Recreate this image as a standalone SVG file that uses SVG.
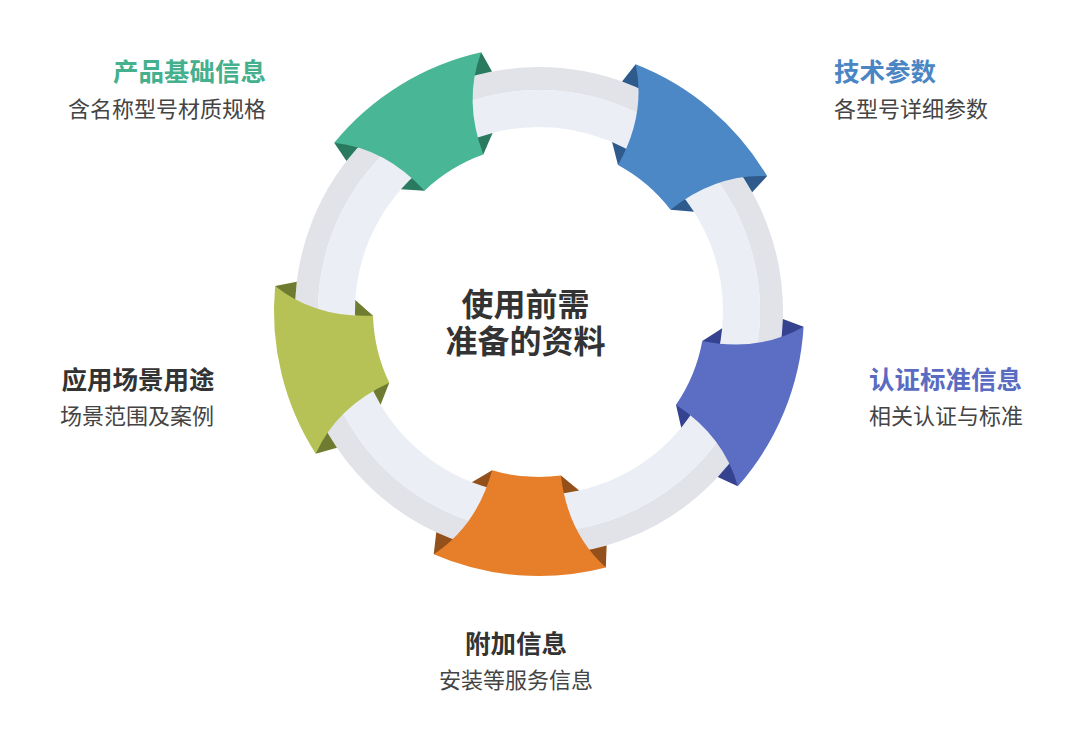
<svg xmlns="http://www.w3.org/2000/svg" xmlns:xlink="http://www.w3.org/1999/xlink" width="1080" height="745" viewBox="0 0 1080 745">
<style>
text{font-family:"Noto Sans CJK SC","Noto Sans",sans-serif;}
.t{font-size:25.5px;font-weight:700;}
.s{font-size:22px;fill:#444;}
.c{font-size:32px;font-weight:700;fill:#333;text-anchor:middle;}
</style>
<defs>
<path id="face" d="M-34.5,162.4 Q-45.5,219 -86.3,250.6 A265,265 0 0 0 86.3,250.6 Q45.5,219 34.5,162.4 A166,166 0 0 1 -34.5,162.4 Z"/>
<path id="flaps" d="M-86.3,250.6 L-85.44,228.55 A244,244 0 0 0 -54.9,237.7 Z M86.3,250.6 L85.44,228.55 A244,244 0 0 1 54.9,237.7 Z M-34.5,162.4 L-53.8,176.0 A184,184 0 0 0 -28.8,181.7 Z M34.5,162.4 L53.8,176.0 A184,184 0 0 1 28.8,181.7 Z"/>
</defs>
<rect width="1080" height="745" fill="#fff"/>
<g id="connectors">
<circle cx="539" cy="311" r="232.5" fill="none" stroke="#e1e3e8" stroke-width="23"/>
<circle cx="539" cy="311" r="202.5" fill="none" stroke="#ebeef5" stroke-width="37"/>
</g>
<g id="node-product" transform="translate(539,311) rotate(148.4)">
<use xlink:href="#flaps" fill="#2a7a60"/>
<use xlink:href="#face" fill="#49b795"/>
</g>
<g id="node-tech" transform="translate(539,311) rotate(-139.6)">
<use xlink:href="#flaps" fill="#2e5a8c"/>
<use xlink:href="#face" fill="#4c88c6"/>
</g>
<g id="node-cert" transform="translate(539,311) rotate(-67.6)">
<use xlink:href="#flaps" fill="#34428f"/>
<use xlink:href="#face" fill="#5b6ec4"/>
</g>
<g id="node-extra" transform="translate(539,311) rotate(4.4)">
<use xlink:href="#flaps" fill="#93501b"/>
<use xlink:href="#face" fill="#e67e2a"/>
</g>
<g id="node-usage" transform="translate(539,311) rotate(76.4)">
<use xlink:href="#flaps" fill="#6f7b30"/>
<use xlink:href="#face" fill="#b7c256"/>
</g>
<g id="center">
<text class="c" x="525.5" y="316">使用前需</text>
<text class="c" x="525.5" y="353">准备的资料</text>
</g>
<g id="label-product" text-anchor="end">
<text class="t" x="266" y="81" fill="#45b08d">产品基础信息</text>
<text class="s" x="266" y="116.5">含名称型号材质规格</text>
</g>
<g id="label-tech">
<text class="t" x="834" y="81" fill="#4a85c4">技术参数</text>
<text class="s" x="834" y="116.5">各型号详细参数</text>
</g>
<g id="label-cert">
<text class="t" x="869" y="389" fill="#5a6bc2">认证标准信息</text>
<text class="s" x="869" y="423.5">相关认证与标准</text>
</g>
<g id="label-extra" text-anchor="middle">
<text class="t" x="516" y="653" fill="#333">附加信息</text>
<text class="s" x="516" y="688">安装等服务信息</text>
</g>
<g id="label-usage" text-anchor="end">
<text class="t" x="214.5" y="389" fill="#333">应用场景用途</text>
<text class="s" x="214" y="423.5">场景范围及案例</text>
</g>
</svg>
